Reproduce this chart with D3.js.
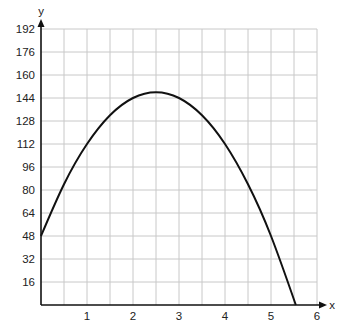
<!DOCTYPE html>
<html>
<head>
<meta charset="utf-8">
<script src="https://cdn.jsdelivr.net/npm/d3@7"></script>
<style>
  body { margin: 0; background: #fff; }
  text { font-family: "Liberation Sans", Arial, sans-serif; fill: #222; }
</style>
</head>
<body>
<div id="chart"></div>
<script>
// values
const xPoints = [0, 0.5, 1, 1.5, 2, 2.5, 3, 3.5, 4, 4.5, 5, 5.54];
const yPoints = [48, 84, 112, 132, 144, 148, 144, 132, 112, 84, 48, 0];
const xTicks = [1, 2, 3, 4, 5, 6];
const yTicks = [16, 32, 48, 64, 80, 96, 112, 128, 144, 160, 176, 192];

const W = 353, H = 334;

const x = d3.scaleLinear().domain([0, 6]).range([41, 317]);
const y = d3.scaleLinear().domain([0, 192]).range([305, 29]);

const svg = d3.select('#chart').append('svg')
  .attr('width', W).attr('height', H);

// grid: half units across, 16 units up
const gx = d3.range(0.5, 6.01, 0.5);
const gy = d3.range(16, 192.1, 16);
const grid = svg.append('g').attr('stroke', '#c8c8c8').attr('stroke-width', 1);
grid.selectAll('line.v').data(gx).enter().append('line')
  .attr('x1', d => x(d)).attr('x2', d => x(d))
  .attr('y1', y(0)).attr('y2', y(192));
grid.selectAll('line.h').data(gy).enter().append('line')
  .attr('x1', x(0)).attr('x2', x(6))
  .attr('y1', d => y(d)).attr('y2', d => y(d));

// axes
const axes = svg.append('g').attr('stroke', '#111').attr('stroke-width', 1.6);
axes.append('line').attr('x1', x(0)).attr('x2', 322).attr('y1', y(0)).attr('y2', y(0));
axes.append('line').attr('x1', x(0)).attr('x2', x(0)).attr('y1', y(0)).attr('y2', 24);
svg.append('path').attr('d', 'M327,305 L319,301.5 L319,308.5 Z').attr('fill', '#111');
svg.append('path').attr('d', 'M41,19 L37.5,27 L44.5,27 Z').attr('fill', '#111');

svg.append('text').attr('x', 332).attr('y', 309).attr('text-anchor', 'middle')
  .style('font-size', '11.5px').text('x');
svg.append('text').attr('x', 41).attr('y', 15).attr('text-anchor', 'middle')
  .style('font-size', '11.5px').text('y');

svg.selectAll('text.xt').data(xTicks).enter().append('text')
  .attr('class', 'xt')
  .attr('x', d => x(d)).attr('y', 320)
  .attr('text-anchor', 'middle')
  .style('font-size', '11.5px')
  .text(d => d);

svg.selectAll('text.yt').data(yTicks).enter().append('text')
  .attr('class', 'yt')
  .attr('x', 35).attr('y', d => y(d) + 4)
  .attr('text-anchor', 'end')
  .style('font-size', '11.5px')
  .text(d => d);

// curve
const pts = xPoints.map((d, i) => [d, yPoints[i]]);
const line = d3.line()
  .x(d => x(d[0])).y(d => y(d[1]))
  .curve(d3.curveNatural);
svg.append('path').datum(pts)
  .attr('d', line)
  .attr('fill', 'none')
  .attr('stroke', '#111')
  .attr('stroke-width', 2);
</script>
</body>
</html>
